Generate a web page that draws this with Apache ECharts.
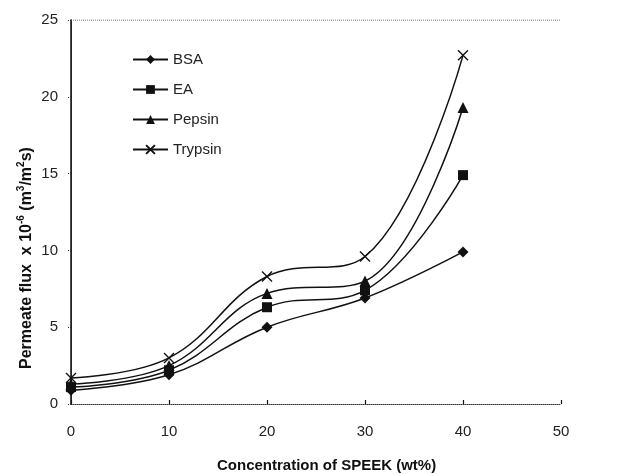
<!DOCTYPE html>
<html>
<head>
<meta charset="utf-8">
<script src="https://cdn.jsdelivr.net/npm/echarts@6/dist/echarts.min.js"></script>
<style>
  html, body { margin: 0; padding: 0; background: #fff; }
  #chart { width: 620px; height: 474px; }
</style>
</head>
<body>
<div id="chart"></div>
<script>
// concentration of SPEEK (wt%)
const concentration = [0, 10, 20, 30, 40];
// permeate flux x 10^-6 (m3/m2s)
const bsa     = [0.9, 1.9, 5.0, 6.9, 9.9];
const ea      = [1.1, 2.2, 6.3, 7.4, 14.9];
const pepsin  = [1.3, 2.5, 7.2, 8.0, 19.3];
const trypsin = [1.7, 3.0, 8.3, 9.6, 22.7];

const xTicks = [0, 10, 20, 30, 40, 50];
const yTicks = [0, 5, 10, 15, 20, 25];

const font = 'Liberation Sans, Arial, sans-serif';
const crossPath = 'path://M0,0L10,10M10,0L0,10';

const pairs = (ys) => concentration.map((x, i) => [x, ys[i]]);

function makeSeries(name, ys, symbol, size, extra) {
  return Object.assign({
    name: name,
    type: 'line',
    data: pairs(ys),
    smooth: 0.4,
    symbol: symbol,
    symbolSize: size,
    lineStyle: { color: '#111', width: 1.5 },
    itemStyle: { color: '#111' },
    z: 3
  }, extra || {});
}

const chart = echarts.init(document.getElementById('chart'));

chart.setOption({
  animation: false,
  backgroundColor: '#fff',
  grid: { left: 71, right: 59, top: 20, bottom: 70, show: false },
  legend: {
    orient: 'vertical',
    left: 127,
    top: 47,
    itemGap: 15,
    itemWidth: 35,
    itemHeight: 11,
    textStyle: { fontFamily: font, fontSize: 15, color: '#222' },
    data: ['BSA', 'EA', 'Pepsin', 'Trypsin']
  },
  graphic: [{
    type: 'text',
    left: 217,
    top: 458,
    style: {
      text: 'Concentration of SPEEK (wt%)',
      font: 'bold 15px ' + font,
      fill: '#111'
    }
  }, {
    type: 'text',
    x: 16,
    y: 369,
    rotation: Math.PI / 2,
    style: {
      text: '{b|Permeate flux  x 10}{s|-6}{b| (m}{s|3}{b|/m}{s|2}{b|s)}',
      rich: {
        b: { font: 'bold 16px ' + font, fill: '#111', verticalAlign: 'bottom', lineHeight: 19 },
        s: { font: 'bold 10px ' + font, fill: '#111', verticalAlign: 'top', lineHeight: 19 }
      }
    }
  }],
  xAxis: {
    type: 'value',
    min: 0,
    max: 50,
    interval: 10,
    axisLine: { show: true, onZero: false, lineStyle: { color: '#333', width: 1, type: [1, 1] } },
    axisTick: { show: true, inside: true, length: 4, lineStyle: { color: '#111', width: 1.2 } },
    axisLabel: {
      fontFamily: font, fontSize: 15, color: '#222', margin: 20,
      formatter: (v) => xTicks.includes(v) ? String(v) : ''
    },
    splitLine: { show: false }
  },
  yAxis: [{
    type: 'value',
    min: 0,
    max: 25,
    interval: 5,
    axisLine: { show: true, onZero: false, lineStyle: { color: '#111', width: 1.5 } },
    axisTick: { show: true, length: 4, lineStyle: { color: '#333', type: [1, 1] } },
    axisLabel: {
      fontFamily: font, fontSize: 15, color: '#222', margin: 13,
      formatter: (v) => yTicks.includes(v) ? String(v) : ''
    },
    splitLine: { show: false }
  }, {
    // right frame
    type: 'value',
    position: 'right',
    min: 0,
    max: 25,
    interval: 5,
    axisLine: { show: true, lineStyle: { color: '#222', width: 1 } },
    axisTick: { show: false },
    axisLabel: { show: false },
    splitLine: { show: false }
  }],
  series: [
    makeSeries('BSA', bsa, 'diamond', 11),
    makeSeries('EA', ea, 'rect', 10),
    makeSeries('Pepsin', pepsin, 'triangle', 11),
    makeSeries('Trypsin', trypsin, crossPath, 10, {
      itemStyle: { color: 'rgba(0,0,0,0)', borderColor: '#111', borderWidth: 1.4 }
    }),
    {
      // top frame (dotted)
      type: 'line',
      data: [[0, 25], [50, 25]],
      symbol: 'none',
      silent: true,
      lineStyle: { color: '#555', width: 1, type: [1, 1] },
      z: 1
    }
  ]
});
</script>
</body>
</html>
